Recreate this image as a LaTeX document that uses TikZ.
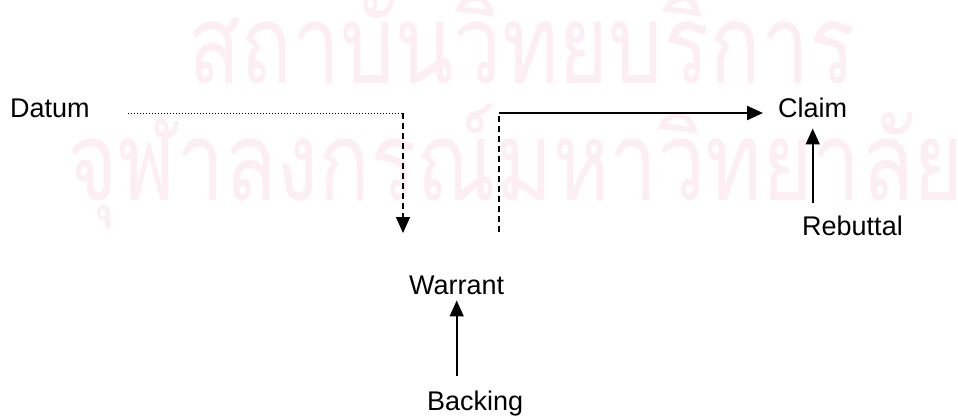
\documentclass[tikz,border=0pt]{standalone}
\usepackage{fontspec}
\setmainfont{Liberation Sans}
\newfontfamily\thaifont[Script=Thai]{Loma}
\usetikzlibrary{arrows.meta}
\definecolor{stampcol}{RGB}{252,238,243}
\begin{document}
\begin{tikzpicture}[x=1pt,y=-1pt,
		word/.style={anchor=base west,inner sep=0pt,font=\fontsize{27}{31}\selectfont},
		stamp/.style={anchor=base west,inner sep=0pt,text=stampcol,font=\thaifont\fontsize{110}{110}\selectfont},
		tip/.style={-{Triangle[length=16pt,width=14pt]}},
		dotline/.style={line width=1pt,dash pattern=on 1pt off 2pt},
		dashline/.style={line width=1.5pt,dash pattern=on 6pt off 4pt}]
	\useasboundingbox (0,0) rectangle (958,416);
	\clip (0,0) rectangle (958,416);
	
	% Watermark
	\node[stamp] (stampA) at (188,83) {\scalebox{0.78}[1]{สถาบันวิทยบริการ}};
	\node[stamp] (stampB) at (67,200) {\scalebox{0.78}[1]{จุฬาลงกรณ์มหาวิทยาลัย}};
	
	% Terms
	\node[word] (datum) at (10,117) {Datum};
	\node[word] (claim) at (778,117) {Claim};
	\node[word] (rebuttal) at (802,235) {Rebuttal};
	\node[word] (warrant) at (409,294) {Warrant};
	\node[word] (backing) at (427,410) {Backing};
	
	% Corners of the step
	\coordinate (dstart) at (128,113);
	\coordinate (dcorner) at (403,113);
	\coordinate (dtip) at (403,233);
	\coordinate (wcorner) at (499,113);
	\coordinate (wfoot) at (499,232);
	
	% Datum to warrant
	\draw[dotline] (dstart) -- (dcorner);
	\draw[dashline,tip] (dcorner) -- (dtip);
	
	% Warrant to claim
	\draw[dashline] (wfoot) -- (wcorner);
	\draw[line width=2.4pt,tip,shorten >=15pt] (wcorner) -- (claim.west |- wcorner);
	
	% Rebuttal and backing
	\draw[line width=1.6pt,tip,shorten <=12pt,shorten >=11pt] (claim.south |- rebuttal.north) -- (claim.south);
	\draw[line width=1.6pt,tip,shorten <=14pt,shorten >=6pt] (warrant.south |- backing.north) -- (warrant.south);
\end{tikzpicture}
\end{document}
